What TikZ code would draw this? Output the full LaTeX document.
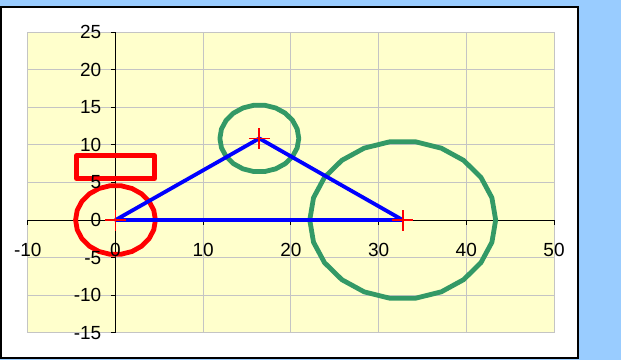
\documentclass[tikz,border=0pt]{standalone}
\usepackage{fontspec}
\setmainfont{Liberation Sans}
\definecolor{bgblue}{HTML}{99CCFF}
\definecolor{plotyellow}{HTML}{FFFFCC}
\definecolor{gridgray}{HTML}{C4C4C4}
\definecolor{seagreen}{HTML}{339966}
\begin{document}
\begin{tikzpicture}[x=1pt,y=1pt,
  lbl/.style={inner sep=0pt, font=\fontsize{19}{19}\selectfont},
  gridline/.style={draw=gridgray, line width=0.9pt},
  axisline/.style={draw=black, line width=0.9pt},
  redshape/.style={draw=red, line width=4.8pt, line join=round},
  greenshape/.style={draw=seagreen, line width=4.8pt, line join=round},
  blueline/.style={draw=blue, line width=3.8pt, line join=round},
  marker/.style={draw=red, line width=1.8pt}]
\fill[bgblue] (0,0) rectangle (621,360);
\useasboundingbox (0,0) rectangle (621,360);
\draw[fill=white, line width=1.3pt] (1,2) rectangle (578,353);
\begin{scope}[shift={(115.5,140)}, x=8.77pt, y=7.52pt]
  % plot area
  \fill[plotyellow] (-10,-15) rectangle (50,25);
  \foreach \x in {-10,0,...,50} \draw[gridline] (\x,-15) -- (\x,25);
  \foreach \y in {-15,-10,...,25} \draw[gridline] (-10,\y) -- (50,\y);
  % axes
  \coordinate (xa) at (-10,0);
  \coordinate (xb) at (50,0);
  \coordinate (ya) at (0,-15);
  \coordinate (yb) at (0,25);
  \draw[axisline] (xa) -- (xb);
  \draw[axisline] (ya) -- (yb);
  \foreach \x in {-10,0,...,50} \draw[axisline] (\x,0) -- ++(0,-5pt);
  \foreach \y in {-15,-10,...,25} \draw[axisline] (0,\y) -- ++(-5pt,0);
  % key points
  \coordinate (A) at (0,0);
  \coordinate (B) at (16.4,10.85);
  \coordinate (C) at (32.75,0);
  % red shapes
  \draw[redshape] (-4.45,5.5) rectangle (4.45,8.55);
  \draw[redshape, shift={(A)}] plot[domain=0:360, samples=23] ({4.55*cos(\x)}, {4.6*sin(\x)}) -- cycle;
  % green circles
  \draw[greenshape, shift={(B)}] plot[domain=0:360, samples=23] ({4.5*cos(\x)}, {4.45*sin(\x)}) -- cycle;
  \draw[greenshape, shift={(C)}] plot[domain=0:360, samples=23] ({10.6*cos(\x)}, {10.5*sin(\x)}) -- cycle;
  % triangle
  \draw[blueline] (A) -- (B) -- (C) -- cycle;
  % markers
  \foreach \p in {A,B,C} {
    \draw[marker] (\p) ++(-10.5pt,0) -- ++(21pt,0);
    \draw[marker] (\p) ++(0,-10.5pt) -- ++(0,21pt);
  }
  % labels
  \foreach \x in {-10,0,...,50} \node[lbl] (xl\x) at (\x,-4) {\x};
  \foreach \y in {-15,-10,...,25} \node[lbl, anchor=east] (yl\y) at ([xshift=-14pt]0,\y) {\y};
\end{scope}
\end{tikzpicture}
\end{document}
